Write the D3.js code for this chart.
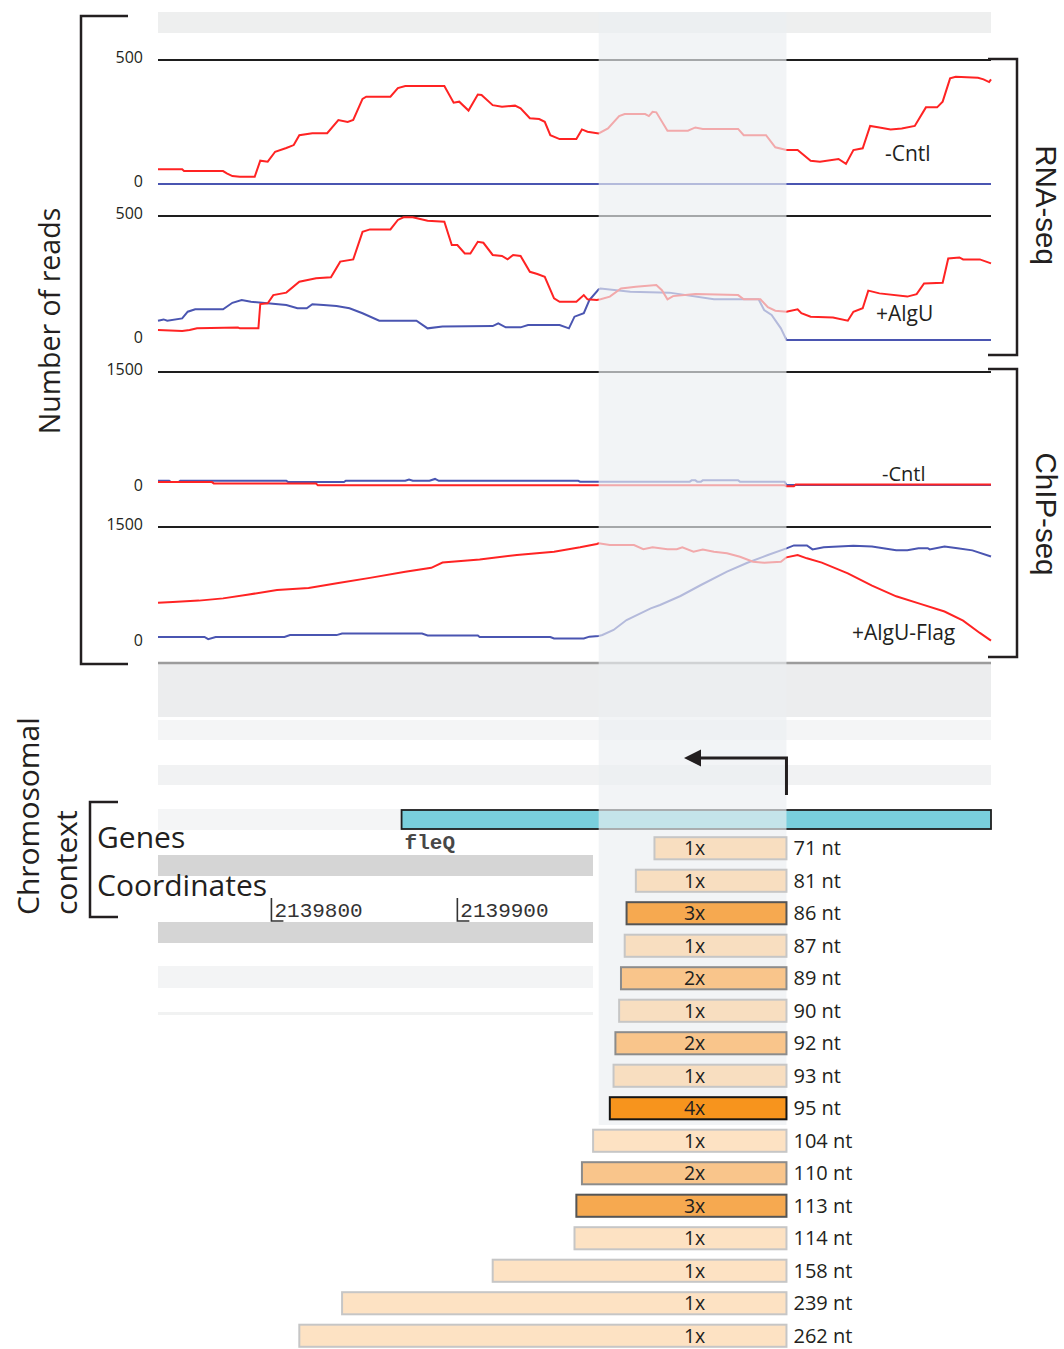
<!DOCTYPE html>
<html>
<head>
<meta charset="utf-8">
<script src="https://cdn.jsdelivr.net/npm/d3@7"></script>
<style>
  body { margin: 0; background: #fff; }
  svg { display: block; }
  text { font-family: "Open Sans", "Noto Sans", sans-serif; fill: #231f20; }
</style>
</head>
<body>
<svg id="fig" width="1064" height="1349"></svg>
<script>
// ---- genomic window (P. aeruginosa chromosome, fleQ upstream region) ----
const windowStart = 2139739;
const windowEnd = 2140187;
const highlightRegion = [2139976, 2140077];
const tssPosition = 2140077;          // transcription start, transcripts run leftwards
const geneName = "fleQ";
const geneStart = 2139870;
const coordinateTicks = [2139800, 2139900];

// ---- coverage tracks: [position, reads] ----
const rnaCntlRed = [[2139739,59],[2139752,59],[2139753,52],[2139774,52],[2139776,43],[2139779,32],[2139783,29],[2139791,29],[2139794,94],[2139798,90],[2139802,130],[2139808,145],[2139812,157],[2139815,197],[2139822,205],[2139830,205],[2139836,258],[2139841,250],[2139844,258],[2139849,343],[2139851,352],[2139864,352],[2139868,387],[2139872,395],[2139893,395],[2139898,328],[2139901,332],[2139906,296],[2139911,361],[2139913,359],[2139919,318],[2139924,312],[2139931,316],[2139934,305],[2139939,265],[2139944,262],[2139947,251],[2139950,197],[2139955,181],[2139964,181],[2139967,220],[2139970,211],[2139976,204],[2139981,224],[2139987,274],[2139990,282],[2140001,282],[2140003,274],[2140005,291],[2140007,289],[2140013,215],[2140024,215],[2140028,228],[2140032,222],[2140051,222],[2140054,197],[2140066,197],[2140071,148],[2140077,137],[2140083,137],[2140090,94],[2140095,90],[2140105,101],[2140109,81],[2140113,137],[2140118,144],[2140122,234],[2140127,228],[2140133,220],[2140139,224],[2140146,234],[2140152,309],[2140158,309],[2140161,332],[2140165,426],[2140168,432],[2140180,428],[2140183,422],[2140186,411],[2140187,422]];
const rnaCntlBlue = [[2139739,0],[2140187,0]];

const rnaAlgURed = [[2139739,40],[2139752,36],[2139756,40],[2139760,47],[2139782,50],[2139783,47],[2139793,47],[2139794,145],[2139798,148],[2139801,181],[2139808,191],[2139815,235],[2139824,249],[2139832,253],[2139837,316],[2139844,325],[2139849,436],[2139853,446],[2139864,446],[2139868,484],[2139871,495],[2139876,495],[2139884,481],[2139893,477],[2139897,383],[2139900,383],[2139904,349],[2139907,349],[2139911,396],[2139914,392],[2139919,343],[2139924,339],[2139927,325],[2139930,343],[2139934,339],[2139939,275],[2139943,266],[2139947,255],[2139952,168],[2139955,154],[2139964,154],[2139968,181],[2139970,164],[2139975,161],[2139977,164],[2139982,175],[2139988,208],[2139996,215],[2140007,222],[2140010,201],[2140013,164],[2140016,177],[2140028,185],[2140051,181],[2140054,164],[2140063,164],[2140067,132],[2140071,118],[2140077,114],[2140083,124],[2140085,108],[2140090,94],[2140102,91],[2140110,78],[2140113,114],[2140118,128],[2140121,199],[2140127,188],[2140142,175],[2140147,185],[2140151,228],[2140161,231],[2140164,329],[2140170,333],[2140172,325],[2140181,325],[2140187,309]];
const rnaAlgUBlue = [[2139739,78],[2139742,83],[2139744,78],[2139752,87],[2139755,114],[2139759,124],[2139774,124],[2139779,150],[2139784,161],[2139789,154],[2139808,141],[2139814,128],[2139819,128],[2139822,144],[2139828,141],[2139835,137],[2139842,128],[2139849,108],[2139858,78],[2139878,78],[2139884,47],[2139892,54],[2139919,56],[2139922,67],[2139926,51],[2139934,51],[2139938,60],[2139955,60],[2139960,47],[2139963,94],[2139968,108],[2139971,161],[2139976,204],[2139977,208],[2139993,195],[2140014,191],[2140038,164],[2140062,164],[2140065,121],[2140069,101],[2140074,47],[2140077,0],[2140187,0]];

const chipCntlRed = [[2139739,76],[2139768,76],[2139769,59],[2139824,59],[2139825,34],[2140076,34],[2140077,23],[2140081,23],[2140082,45],[2140187,45]];
const chipCntlBlue = [[2139739,93],[2139745,93],[2139746,76],[2139750,76],[2139751,93],[2139808,93],[2139809,76],[2139839,76],[2139840,93],[2139872,93],[2139874,110],[2139876,93],[2139885,93],[2139888,117],[2139890,93],[2139965,93],[2139966,82],[2140025,82],[2140026,99],[2140028,99],[2140029,82],[2140031,82],[2140032,99],[2140051,99],[2140052,82],[2140076,82],[2140077,39],[2140187,39]];

const chipAlgURed = [[2139739,520],[2139747,530],[2139761,548],[2139774,577],[2139787,624],[2139803,684],[2139820,711],[2139836,775],[2139853,842],[2139872,921],[2139886,972],[2139892,1040],[2139912,1079],[2139932,1139],[2139952,1181],[2139966,1237],[2139975,1280],[2139976,1289],[2139982,1267],[2139995,1267],[2140000,1212],[2140005,1237],[2140013,1212],[2140018,1212],[2140021,1237],[2140027,1181],[2140032,1210],[2140038,1181],[2140045,1160],[2140052,1116],[2140059,1051],[2140065,1038],[2140074,1051],[2140077,1108],[2140083,1138],[2140088,1095],[2140096,1040],[2140110,901],[2140123,743],[2140136,604],[2140149,506],[2140162,407],[2140172,288],[2140181,130],[2140187,31]];
const chipAlgUBlue = [[2139739,78],[2139764,78],[2139766,50],[2139770,78],[2139807,78],[2139810,102],[2139835,102],[2139838,122],[2139881,122],[2139884,98],[2139911,98],[2139912,78],[2139950,78],[2139952,58],[2139968,58],[2139971,82],[2139976,90],[2139978,103],[2139984,168],[2139991,297],[2140004,448],[2140009,491],[2140020,608],[2140031,750],[2140045,922],[2140056,1038],[2140067,1138],[2140077,1224],[2140081,1262],[2140088,1262],[2140091,1210],[2140097,1238],[2140113,1257],[2140123,1249],[2140136,1198],[2140142,1198],[2140148,1226],[2140153,1226],[2140154,1210],[2140162,1249],[2140169,1226],[2140177,1198],[2140187,1119]];

const trackNames = ["-Cntl", "+AlgU", "-Cntl", "+AlgU-Flag"];
const trackMax = [500, 500, 1500, 1500];
const trackRed = [rnaCntlRed, rnaAlgURed, chipCntlRed, chipAlgURed];
const trackBlue = [rnaCntlBlue, rnaAlgUBlue, chipCntlBlue, chipAlgUBlue];

// ---- mapped sRNA transcripts (lengths in nt, read counts) ----
const transcriptLengths = [71, 81, 86, 87, 89, 90, 92, 93, 95, 104, 110, 113, 114, 158, 239, 262];
const transcriptCounts  = [1, 1, 3, 1, 2, 1, 2, 1, 4, 1, 2, 3, 1, 1, 1, 1];

// ---------------------------------------------------------------------------
const svg = d3.select("#fig");
const x = d3.scaleLinear().domain([windowStart, windowEnd]).range([158, 991]);
const plotL = x(windowStart), plotR = x(windowEnd);
const RED = "#ff2323", BLUE = "#4a55b1";

// browser background bands
const bgBands = [
  { y: 12,  h: 21, fill: "#eeefef", right: plotR },
  { y: 663, h: 54, fill: "#ecedee", right: plotR },
  { y: 720, h: 20, fill: "#f4f5f6", right: plotR },
  { y: 765, h: 20, fill: "#f1f2f3", right: plotR },
  { y: 809, h: 21, fill: "#f4f5f6", right: plotR },
  { y: 855, h: 21, fill: "#d5d5d5", right: 593 },
  { y: 922, h: 21, fill: "#d5d5d5", right: 593 },
  { y: 966, h: 22, fill: "#f3f4f5", right: 593 },
  { y: 1012, h: 3, fill: "#f1f2f2", right: 593 }
];
svg.append("g").selectAll("rect").data(bgBands).join("rect")
  .attr("x", plotL).attr("y", d => d.y)
  .attr("width", d => d.right - plotL).attr("height", d => d.h)
  .attr("fill", d => d.fill);

svg.append("line").attr("x1", plotL).attr("x2", plotR).attr("y1", 663).attr("y2", 663)
  .attr("stroke", "#9c9c9c").attr("stroke-width", 2.5);

// ---- coverage tracks ----
const trackLayout = [
  { top: 60,  h: 124, labelX: 885, labelY: 161 },
  { top: 216, h: 124, labelX: 876, labelY: 321 },
  { top: 372, h: 116, labelX: 882, labelY: 481 },
  { top: 527, h: 116, labelX: 852, labelY: 640 }
];

trackLayout.forEach((L, i) => {
  const y = d3.scaleLinear().domain([0, trackMax[i]]).range([L.top + L.h, L.top]);
  const g = svg.append("g");

  g.append("line").attr("x1", plotL).attr("x2", plotR)
    .attr("y1", y(trackMax[i])).attr("y2", y(trackMax[i]))
    .attr("stroke", "#1e1e1e").attr("stroke-width", 2);

  const axis = d3.axisLeft(y).tickValues([0, trackMax[i]]).tickSize(0).tickPadding(0)
    .tickFormat(d3.format("d"));
  const ag = g.append("g").attr("transform", "translate(143,0)").call(axis);
  ag.select(".domain").remove();
  ag.selectAll("text").attr("font-size", 16).attr("fill", "#231f20")
    .attr("font-family", "'Open Sans', sans-serif").attr("dy", "0.18em");

  const line = d3.line().x(d => x(d[0])).y(d => y(d[1]));
  g.append("path").datum(trackBlue[i]).attr("d", line)
    .attr("fill", "none").attr("stroke", BLUE).attr("stroke-width", 2);
  g.append("path").datum(trackRed[i]).attr("d", line)
    .attr("fill", "none").attr("stroke", RED).attr("stroke-width", 2);

  g.append("text").attr("x", L.labelX).attr("y", L.labelY)
    .attr("font-size", i === 2 ? 20 : 21).text(trackNames[i]);
});

// ---- gene model ----
svg.append("rect")
  .attr("x", x(geneStart)).attr("y", 810)
  .attr("width", plotR - x(geneStart)).attr("height", 19)
  .attr("fill", "#79cfdc").attr("stroke", "#1e1e1e").attr("stroke-width", 1.8);
svg.append("text").attr("x", x(geneStart) + 3).attr("y", 849)
  .style("font-family", "'Liberation Mono', 'DejaVu Sans Mono', monospace")
  .attr("font-size", 21).attr("font-weight", "bold").style("fill", "#474747")
  .text(geneName);

// ---- coordinate ruler ----
const coordG = svg.append("g").selectAll("g").data(coordinateTicks).join("g")
  .attr("transform", d => `translate(${x(d)},0)`);
coordG.append("path").attr("d", "M0,898V921H12")
  .attr("fill", "none").attr("stroke", "#333").attr("stroke-width", 1.6);
coordG.append("text").attr("x", 3).attr("y", 917)
  .style("font-family", "'Liberation Mono', 'DejaVu Sans Mono', monospace")
  .attr("font-size", 21).style("fill", "#333").text(d => d);

// ---- highlighted promoter window ----
svg.append("rect")
  .attr("x", x(highlightRegion[0])).attr("y", 12)
  .attr("width", x(highlightRegion[1]) - x(highlightRegion[0])).attr("height", 1113)
  .attr("fill", "#eceef2").attr("fill-opacity", 0.66);

// ---- TSS arrow ----
const tx = x(tssPosition);
svg.append("path").attr("d", `M${tx},795V758H699`)
  .attr("fill", "none").attr("stroke", "#231f20").attr("stroke-width", 3);
svg.append("path").attr("d", "M684,758L701,749.5L701,766.5Z").attr("fill", "#231f20");

// ---- transcript bars ----
const rows = d3.scaleBand().domain(d3.range(transcriptLengths.length))
  .range([832, 1352]).paddingInner(0.32).paddingOuter(0.16);
const fillByCount = { 1: "#fcd09e", 2: "#f9c285", 3: "#f6a950", 4: "#f7941d" };
const opacityByCount = { 1: 0.62, 2: 0.95, 3: 1, 4: 1 };
const strokeByCount = { 1: "#c6c6c6", 2: "#8c8c8c", 3: "#555555", 4: "#151515" };
const barLabelX = (x(highlightRegion[0]) + x(highlightRegion[1])) / 2 + 2;

const bars = svg.append("g").selectAll("g").data(transcriptLengths).join("g");
bars.append("rect")
  .attr("x", d => x(tssPosition - d)).attr("y", (d, i) => rows(i))
  .attr("width", d => tx - x(tssPosition - d)).attr("height", rows.bandwidth())
  .attr("fill", (d, i) => fillByCount[transcriptCounts[i]])
  .attr("fill-opacity", (d, i) => opacityByCount[transcriptCounts[i]])
  .attr("stroke", (d, i) => strokeByCount[transcriptCounts[i]])
  .attr("stroke-width", 2);
bars.append("text")
  .attr("x", barLabelX).attr("y", (d, i) => rows(i) + rows.bandwidth() / 2)
  .attr("dy", "0.35em").attr("text-anchor", "middle").attr("font-size", 19.5)
  .text((d, i) => transcriptCounts[i] + "x");
bars.append("text")
  .attr("x", tx + 7).attr("y", (d, i) => rows(i) + rows.bandwidth() / 2)
  .attr("dy", "0.35em").attr("font-size", 20)
  .text(d => d + " nt");

// ---- brackets and panel titles ----
const bracket = (d) => svg.append("path").attr("d", d)
  .attr("fill", "none").attr("stroke", "#231f20").attr("stroke-width", 2.5);
bracket("M128,16H81V664H128");
bracket("M988,59H1017V355H988");
bracket("M988,369H1017V657H988");
bracket("M118,802H90V917H118");

svg.append("text").attr("transform", "translate(60,321) rotate(-90)")
  .attr("text-anchor", "middle").attr("font-size", 28.5).text("Number of reads");
svg.append("text").attr("transform", "translate(1036,205) rotate(90)")
  .style("font-family", "'Liberation Sans', Arial, sans-serif")
  .attr("text-anchor", "middle").attr("font-size", 29.5).text("RNA-seq");
svg.append("text").attr("transform", "translate(1036,514) rotate(90)")
  .style("font-family", "'Liberation Sans', Arial, sans-serif")
  .attr("text-anchor", "middle").attr("font-size", 29.5).text("ChIP-seq");
svg.append("text").attr("transform", "translate(39,915) rotate(-90)")
  .attr("font-size", 30).text("Chromosomal");
svg.append("text").attr("transform", "translate(77,915) rotate(-90)")
  .attr("font-size", 30).text("context");
svg.append("text").attr("x", 97).attr("y", 848).attr("font-size", 30).text("Genes");
svg.append("text").attr("x", 97).attr("y", 896).attr("font-size", 30).text("Coordinates");
</script>
</body>
</html>
